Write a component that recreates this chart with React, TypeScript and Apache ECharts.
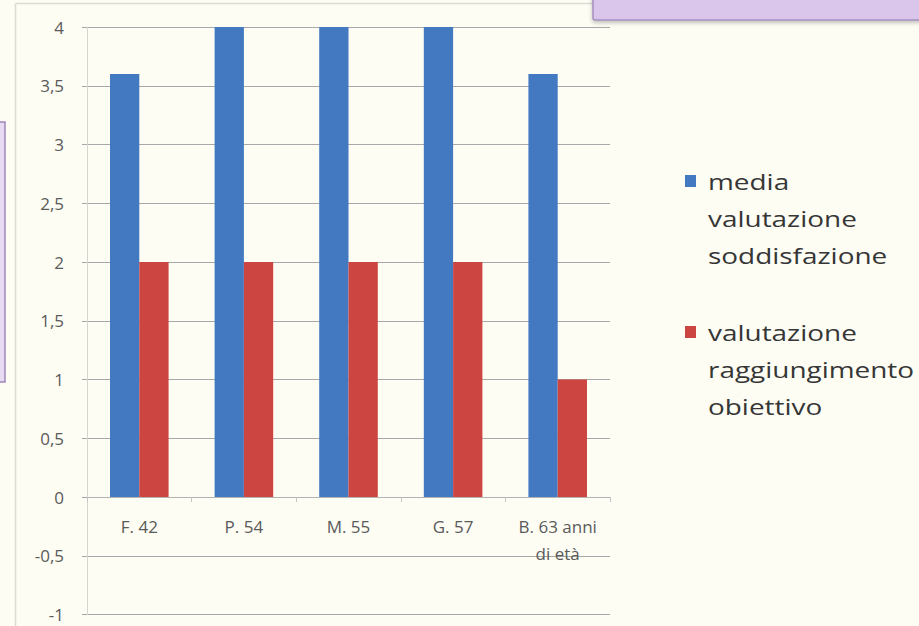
import React, { useEffect, useRef } from "react";
import * as echarts from "echarts";

// Categories (patients) and the two evaluation series
const categories = ["F. 42", "P. 54", "M. 55", "G. 57", "B. 63 anni\ndi età"];
const mediaSoddisfazione = [3.6, 4, 4, 4, 3.6];
const raggiungimentoObiettivo = [2, 2, 2, 2, 1];
const seriesNames = ["media valutazione soddisfazione", "valutazione raggiungimento obiettivo"];
const legendLines = ["media\nvalutazione\nsoddisfazione", "valutazione\nraggiungimento\nobiettivo"];

const Y_MIN = -1;
const Y_MAX = 4;

const BLUE = "#4279c0";
const RED = "#cd4540";
const BG = "#fdfdf4";
const FONT = "'Open Sans', 'Noto Sans', sans-serif";

const GRID_TOP = 27;
const GRID_BOTTOM = 11.5;
const HEIGHT = 626;

export default function App() {
  const ref = useRef<HTMLDivElement>(null);

  useEffect(() => {
    if (!ref.current) return;
    const chart = echarts.init(ref.current, undefined, { renderer: "svg" });
    // the category axis sits on the zero line: shift it up from the grid bottom
    const plotH = HEIGHT - GRID_TOP - GRID_BOTTOM;
    const zeroShift = (plotH * (0 - Y_MIN)) / (Y_MAX - Y_MIN);
    chart.setOption({
      animation: false,
      backgroundColor: BG,
      textStyle: { fontFamily: FONT },
      grid: { left: 87, right: 309, top: GRID_TOP, bottom: GRID_BOTTOM, outerBoundsMode: "none" },
      xAxis: {
        type: "category",
        data: categories,
        offset: -zeroShift,
        axisLine: { onZero: false, lineStyle: { color: "#b4b4b4", width: 1 } },
        axisTick: { show: true, length: 5, inside: false, lineStyle: { color: "#c4c4c4" } },
        axisLabel: {
          color: "#5a5a5a",
          fontSize: 17,
          lineHeight: 27,
          margin: 16,
          interval: 0,
          fontFamily: FONT,
        },
      },
      yAxis: {
        type: "value",
        min: Y_MIN,
        max: Y_MAX,
        interval: 0.5,
        axisLine: { show: true, lineStyle: { color: "#d6d6d0" } },
        axisTick: { show: true, length: 5, lineStyle: { color: "#a8a8a8" } },
        splitLine: { lineStyle: { color: "#a8a8a8", width: 1 } },
        axisLabel: {
          color: "#5a5a5a",
          fontSize: 17,
          margin: 23,
          fontFamily: FONT,
          formatter: (v: number) => String(v).replace(".", ","),
        },
      },
      series: [
        {
          name: seriesNames[0],
          type: "bar",
          data: mediaSoddisfazione,
          itemStyle: { color: BLUE },
          barGap: "0%",
          barCategoryGap: "44%",
        },
        {
          name: seriesNames[1],
          type: "bar",
          data: raggiungimentoObiettivo,
          itemStyle: { color: RED },
        },
      ],
      graphic: [
        // chart area frame
        { type: "line", shape: { x1: 15.5, y1: 3.5, x2: 15.5, y2: 626 }, style: { stroke: "#dcdcd4", lineWidth: 1.5 } },
        { type: "line", shape: { x1: 15.5, y1: 3.5, x2: 600, y2: 3.5 }, style: { stroke: "#dcdcd4", lineWidth: 1.5 } },
        // neighbouring slide boxes
        { type: "rect", shape: { x: -10, y: 122, width: 15, height: 260 }, style: { fill: "#e6dbf0", stroke: "#9e88bb", lineWidth: 1.5 } },
        { type: "rect", shape: { x: 593, y: -10, width: 340, height: 30, r: 2 }, style: { fill: "#d9c6ea", stroke: "#a48fc0", lineWidth: 1.5, shadowBlur: 4, shadowColor: "rgba(0,0,0,0.25)", shadowOffsetY: 2 } },
        // legend
        { type: "rect", shape: { x: 685, y: 175, width: 11, height: 12 }, style: { fill: BLUE } },
        { type: "text", x: 708, y: 162.5, scaleX: 1.27, style: { text: legendLines[0], font: `22px ${FONT}`, lineHeight: 37, fill: "#363636", verticalAlign: "top" } },
        { type: "rect", shape: { x: 685, y: 326, width: 11, height: 12 }, style: { fill: RED } },
        { type: "text", x: 708, y: 313.5, scaleX: 1.27, style: { text: legendLines[1], font: `22px ${FONT}`, lineHeight: 37, fill: "#363636", verticalAlign: "top" } },
      ],
    });
    return () => chart.dispose();
  }, []);

  return (
    <div
      ref={ref}
      style={{ position: "fixed", left: 0, top: 0, width: 919, height: 626, background: BG }}
    />
  );
}
